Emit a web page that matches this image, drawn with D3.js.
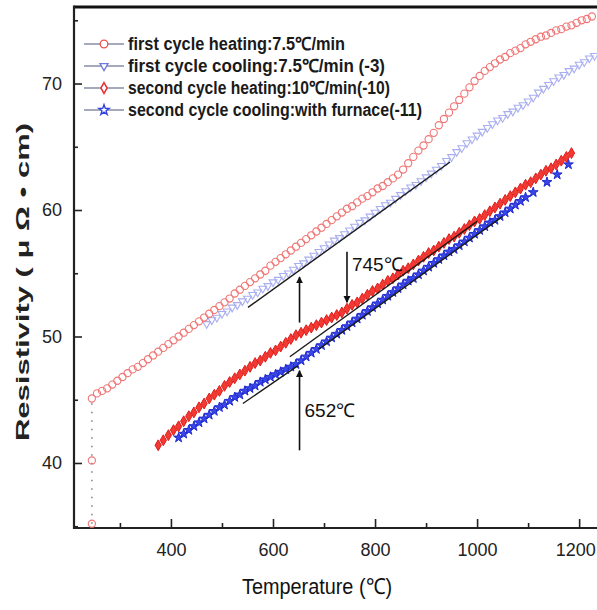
<!DOCTYPE html>
<html>
<head>
<meta charset="utf-8">
<script src="https://cdn.jsdelivr.net/npm/d3@7"></script>
<style>
  body { margin: 0; background: #fff; }
  svg { display: block; }
</style>
</head>
<body>
<svg width="597" height="610"></svg>
<script>
// first cycle heating 7.5 C/min  [temperature, resistivity]
var heat1Drop = [[245, 35.2], [245, 40.2], [245, 45.1]];
var heat1 = [[245,45.1],[255,45.5],[265,45.7],[275,45.9],[285,46.2],[295,46.5],[305,46.8],[315,47.1],[325,47.4],[335,47.6],
  [345,47.9],[355,48.2],[365,48.5],[375,48.8],[385,49.1],[395,49.4],[405,49.7],[415,50.0],[425,50.3],[435,50.6],
  [445,50.9],[455,51.2],[465,51.5],[475,51.8],[485,52.1],[495,52.4],[505,52.7],[515,53.0],[525,53.4],[535,53.7],
  [545,54.0],[555,54.3],[565,54.6],[575,54.9],[585,55.2],[595,55.6],[605,55.9],[615,56.2],[625,56.5],[635,56.8],
  [645,57.1],[655,57.4],[665,57.7],[675,58.0],[685,58.3],[695,58.6],[705,58.9],[715,59.2],[725,59.5],[735,59.8],
  [745,60.1],[755,60.3],[765,60.6],[775,60.9],[785,61.1],[795,61.4],[805,61.7],[815,61.9],[825,62.2],[835,62.5],
  [845,62.8],[855,63.2],[865,63.7],[875,64.2],[885,64.7],[895,65.1],[905,65.6],[915,66.1],[925,66.7],[935,67.2],
  [945,67.7],[955,68.2],[965,68.7],[975,69.2],[985,69.7],[995,70.2],[1005,70.6],[1015,71.0],[1025,71.3],[1035,71.6],
  [1045,71.9],[1055,72.1],[1065,72.4],[1075,72.6],[1085,72.8],[1095,73.1],[1105,73.3],[1115,73.5],[1125,73.7],[1135,73.8],
  [1145,74.0],[1155,74.2],[1165,74.3],[1175,74.5],[1185,74.6],[1195,74.8],[1205,75.0],[1215,75.1],[1225,75.3]];

// first cycle cooling 7.5 C/min (-3)
var cool1 = [[470,51.0],[480,51.3],[490,51.5],[500,51.8],[510,52.0],[520,52.3],[530,52.5],[540,52.8],[550,53.0],[560,53.3],
  [570,53.5],[580,53.8],[590,54.0],[600,54.3],[610,54.5],[620,54.8],[630,55.0],[640,55.3],[650,55.6],[660,55.8],
  [670,56.1],[680,56.4],[690,56.7],[700,57.0],[710,57.3],[720,57.6],[730,57.8],[740,58.1],[750,58.4],[760,58.7],
  [770,59.0],[780,59.2],[790,59.5],[800,59.8],[810,60.1],[820,60.4],[830,60.6],[840,60.9],[850,61.2],[860,61.5],
  [870,61.8],[880,62.0],[890,62.3],[900,62.6],[910,62.9],[920,63.2],[930,63.5],[940,63.9],[950,64.2],[960,64.6],
  [970,64.9],[980,65.3],[990,65.6],[1000,65.9],[1010,66.2],[1020,66.5],[1030,66.8],[1040,67.1],[1050,67.3],[1060,67.6],
  [1070,67.8],[1080,68.1],[1090,68.3],[1100,68.6],[1110,68.9],[1120,69.3],[1130,69.6],[1140,69.9],[1150,70.2],[1160,70.5],
  [1170,70.7],[1180,71.0],[1190,71.2],[1200,71.5],[1210,71.7],[1220,72.0],[1230,72.2]];

// second cycle heating 10 C/min (-10)
var heat2 = [[375,41.4],[385,41.8],[395,42.2],[405,42.6],[415,42.9],[425,43.3],[435,43.7],[445,44.0],[455,44.4],[465,44.7],
  [475,45.1],[485,45.4],[495,45.7],[505,46.1],[515,46.4],[525,46.7],[535,47.0],[545,47.3],[555,47.6],[565,47.9],
  [575,48.1],[585,48.4],[595,48.7],[605,48.9],[615,49.2],[625,49.5],[635,49.8],[645,50.1],[655,50.3],[665,50.5],
  [675,50.7],[685,50.9],[695,51.1],[705,51.3],[715,51.5],[725,51.7],[735,51.9],[745,52.2],[755,52.5],[765,52.7],
  [775,53.0],[785,53.3],[795,53.6],[805,53.8],[815,54.1],[825,54.4],[835,54.6],[845,54.9],[855,55.2],[865,55.4],
  [875,55.7],[885,56.0],[895,56.3],[905,56.6],[915,56.8],[925,57.1],[935,57.4],[945,57.7],[955,57.9],[965,58.2],
  [975,58.5],[985,58.8],[995,59.1],[1005,59.3],[1015,59.6],[1025,59.9],[1035,60.2],[1045,60.5],[1055,60.8],[1065,61.1],
  [1075,61.4],[1085,61.7],[1095,62.0],[1105,62.2],[1115,62.5],[1125,62.8],[1135,63.1],[1145,63.3],[1155,63.6],[1165,63.9],
  [1175,64.2],[1185,64.5]];

// second cycle cooling with furnace (-11)
var cool2 = [[415,42.0],[425,42.3],[435,42.6],[445,42.9],[455,43.2],[465,43.5],[475,43.8],[485,44.1],[495,44.4],[505,44.6],
  [515,44.9],[525,45.2],[535,45.4],[545,45.7],[555,45.9],[565,46.1],[575,46.4],[585,46.6],[595,46.8],[605,47.0],
  [615,47.2],[625,47.4],[635,47.6],[645,47.8],[655,48.1],[665,48.4],[675,48.7],[685,49.0],[695,49.3],[705,49.6],
  [715,49.9],[725,50.2],[735,50.5],[745,50.8],[755,51.1],[765,51.4],[775,51.7],[785,52.0],[795,52.3],[805,52.6],
  [815,52.9],[825,53.2],[835,53.5],[845,53.8],[855,54.1],[865,54.4],[875,54.6],[885,54.9],[895,55.2],[905,55.5],
  [915,55.8],[925,56.1],[935,56.4],[945,56.7],[955,56.9],[965,57.2],[975,57.5],[985,57.8],[995,58.1],[1005,58.4],
  [1015,58.7],[1025,59.0],[1035,59.2],[1045,59.5],[1055,59.8],[1065,60.1],[1075,60.4],[1085,60.7],[1095,61.0],[1110,61.4],
  [1137,62.2],[1157,62.8],[1179,63.6]];

// straight fits drawn in black
var fitLines = [
  [[551, 52.3], [947, 63.8]],
  [[633, 48.4], [1000, 59.1]],
  [[541, 44.7], [649, 47.7]],
  [[690, 49.0], [1050, 59.5]]
];

// arrows: [temperature, from, to]
var arrows = [[652, 51.1, 54.7], [745, 56.7, 52.7], [652, 41.0, 47.3]];
var arrowLabels = [[745, 55.7, "745\u2103"], [652, 44.2, "652\u2103"]];

var legendNames = ["first cycle heating:7.5\u2103/min", "first cycle cooling:7.5\u2103/min (-3)",
  "second cycle heating:10\u2103/min(-10)", "second cycle cooling:with furnace(-11)"];
var legendWidths = [217, 257, 262, 294];

var xMajor = [400, 600, 800, 1000, 1200];
var xMinor = [300, 500, 700, 900, 1100];
var yMajor = [40, 50, 60, 70];
var yMinor = [35, 45, 55, 65, 75];

const svg = d3.select("svg");
const padL = 74, padR = 597, padT = 7, padB = 528;

var x = d3.scaleLinear().domain([210, 1235]).range([padL, padR]);
var y = d3.scaleLinear().domain([34.86, 76.05]).range([padB, padT]);

var fontTick = "'Liberation Sans Narrow', 'Arial Narrow', 'Liberation Sans', sans-serif";

// ticks
svg.append("g").attr("transform", "translate(0," + padB + ")")
    .call(d3.axisBottom(x).tickValues(xMajor).tickSize(-9).tickPadding(15).tickFormat(d3.format("d")))
  .selectAll(".tick text")
    .attr("dx", d => d === 1200 ? -4 : 0);
svg.append("g").attr("transform", "translate(0," + padB + ")")
    .call(d3.axisBottom(x).tickValues(xMinor).tickSize(-5).tickFormat(""));
svg.append("g").attr("transform", "translate(" + padL + ",0)")
    .call(d3.axisLeft(y).tickValues(yMajor).tickSize(-8).tickPadding(12));
svg.append("g").attr("transform", "translate(" + padL + ",0)")
    .call(d3.axisLeft(y).tickValues(yMinor).tickSize(-4).tickFormat(""));

svg.selectAll(".domain").remove();
svg.selectAll(".tick line").attr("stroke", "#222").attr("stroke-width", 1.6);
svg.selectAll(".tick text")
    .attr("fill", "#222")
    .style("font-family", fontTick)
    .style("font-size", "18px");

// frame
svg.append("line").attr("x1", padL).attr("x2", padR).attr("y1", padT).attr("y2", padT)
    .attr("stroke", "#111").attr("stroke-width", 3);
svg.append("line").attr("x1", padL).attr("x2", padL).attr("y1", padT - 1.5).attr("y2", padB + 1)
    .attr("stroke", "#222").attr("stroke-width", 2.2);
svg.append("line").attr("x1", padL).attr("x2", padR).attr("y1", padB).attr("y2", padB)
    .attr("stroke", "#222").attr("stroke-width", 2);

// axis titles
svg.append("text")
    .attr("x", 317).attr("y", 594)
    .attr("text-anchor", "middle")
    .attr("textLength", 150).attr("lengthAdjust", "spacingAndGlyphs")
    .style("font-family", fontTick).style("font-size", "22px").attr("fill", "#111")
    .text("Temperature (\u2103)");

svg.append("text")
    .attr("transform", "translate(29,282) rotate(-90)")
    .attr("text-anchor", "middle")
    .attr("textLength", 318).attr("lengthAdjust", "spacingAndGlyphs")
    .style("font-family", "'Liberation Sans', Arial, sans-serif").style("font-size", "19px")
    .style("font-weight", "bold").attr("fill", "#222")
    .text("Resistivity ( \u03bc  \u03a9  \u2022  cm)");

var pts = d => d.map(p => [x(p[0]), y(p[1])]);
var line = d3.line();

// vertical dotted start of first heating
svg.append("path").attr("d", line(pts(heat1Drop)))
    .attr("fill", "none").attr("stroke", "#888").attr("stroke-width", 1.6)
    .attr("stroke-dasharray", "1.5,7");

var sym = function(type, size) { return d3.symbol().type(type).size(size)(); };

// first cycle cooling: light blue open down-triangles
svg.append("g").selectAll("path").data(cool1).join("path")
    .attr("d", sym(d3.symbolTriangle, 26))
    .attr("transform", d => "translate(" + x(d[0]) + "," + y(d[1]) + ") rotate(180)")
    .attr("fill", "none").attr("stroke", "#a9aef0").attr("stroke-width", 1.1);

// first cycle heating: pale red open circles
svg.append("g").selectAll("circle").data(heat1Drop.slice(0, 2).concat(heat1)).join("circle")
    .attr("cx", d => x(d[0])).attr("cy", d => y(d[1])).attr("r", 3.6)
    .attr("fill", "none").attr("stroke", "#f07474").attr("stroke-width", 1.1);

// second cycle cooling: blue stars
svg.append("g").selectAll("path").data(cool2).join("path")
    .attr("d", sym(d3.symbolStar, 30))
    .attr("transform", d => "translate(" + x(d[0]) + "," + y(d[1]) + ")")
    .attr("fill", "#3a46e8").attr("stroke", "#1f2ad0").attr("stroke-width", 1);

// second cycle heating: red diamonds
svg.append("g").selectAll("path").data(heat2).join("path")
    .attr("d", sym(d3.symbolDiamond, 34))
    .attr("transform", d => "translate(" + x(d[0]) + "," + y(d[1]) + ")")
    .attr("fill", "#f23a32").attr("stroke", "#e01c1c").attr("stroke-width", 1);

// fit lines
svg.append("g").selectAll("path").data(fitLines).join("path")
    .attr("d", d => line(pts(d)))
    .attr("stroke", "#1a1a1a").attr("stroke-width", 1.4).attr("fill", "none");

// arrows
svg.append("defs").append("marker")
    .attr("id", "head").attr("viewBox", "0 0 10 10").attr("refX", 9).attr("refY", 5)
    .attr("markerWidth", 7).attr("markerHeight", 9).attr("markerUnits", "userSpaceOnUse")
    .attr("orient", "auto")
  .append("path").attr("d", "M0,0 L10,5 L0,10 z").attr("fill", "#111");

svg.append("g").selectAll("line").data(arrows).join("line")
    .attr("x1", d => x(d[0])).attr("x2", d => x(d[0]))
    .attr("y1", d => y(d[1])).attr("y2", d => y(d[2]))
    .attr("stroke", "#111").attr("stroke-width", 1.6)
    .attr("marker-end", "url(#head)");

svg.append("g").selectAll("text").data(arrowLabels).join("text")
    .attr("x", d => x(d[0]) + 5).attr("y", d => y(d[1]))
    .attr("dy", "0.35em")
    .style("font-family", fontTick).style("font-size", "19px").attr("fill", "#111")
    .text(d => d[2]);

// legend
var legend = svg.append("g").selectAll("g").data(legendNames).join("g")
    .attr("transform", (d, i) => "translate(0," + (44 + i * 22) + ")");

legend.append("line").attr("x1", 84).attr("x2", 124).attr("y1", 0).attr("y2", 0)
    .attr("stroke", "#a4aabb").attr("stroke-width", 1.8);

legend.each(function(d, i) {
  var g = d3.select(this);
  if (i === 0) {
    g.append("circle").attr("cx", 104).attr("cy", 0).attr("r", 3.8)
      .attr("fill", "#fff").attr("stroke", "#ef5050").attr("stroke-width", 1.3);
  } else if (i === 1) {
    g.append("path").attr("d", sym(d3.symbolTriangle, 28))
      .attr("transform", "translate(104,0) rotate(180)")
      .attr("fill", "#fff").attr("stroke", "#7078e0").attr("stroke-width", 1.3);
  } else if (i === 2) {
    g.append("path").attr("d", sym(d3.symbolDiamond, 34))
      .attr("transform", "translate(104,0)")
      .attr("fill", "#fff").attr("stroke", "#e83030").attr("stroke-width", 1.5);
  } else {
    g.append("path").attr("d", sym(d3.symbolStar, 34))
      .attr("transform", "translate(104,0)")
      .attr("fill", "#fff").attr("stroke", "#3040e0").attr("stroke-width", 1.3);
  }
});

legend.append("text")
    .attr("x", 128).attr("y", 0).attr("dy", "0.35em")
    .attr("textLength", (d, i) => legendWidths[i]).attr("lengthAdjust", "spacingAndGlyphs")
    .style("font-family", fontTick).style("font-size", "18px").style("font-weight", "bold")
    .attr("fill", "#1a1a1a")
    .text(d => d);
</script>
</body>
</html>
